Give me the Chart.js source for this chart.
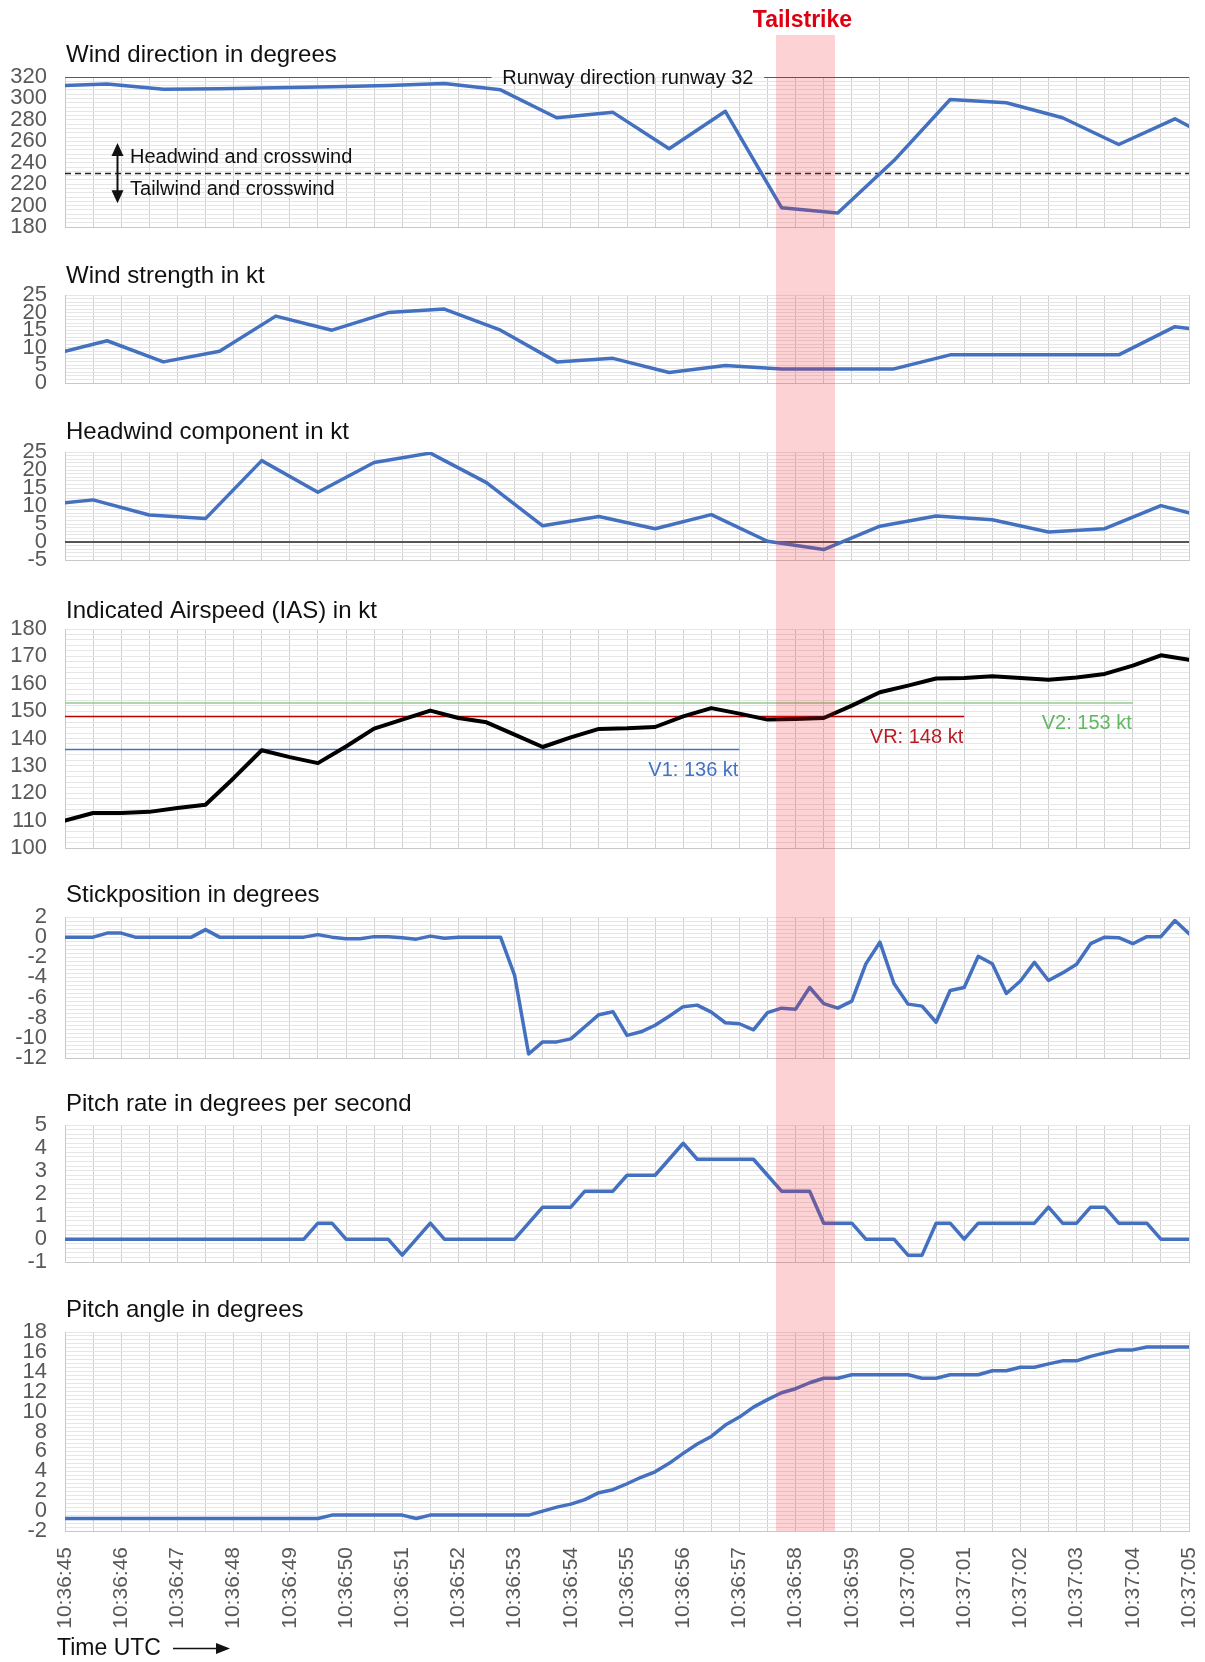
<!DOCTYPE html>
<html>
<head>
<meta charset="utf-8">
<title>Takeoff data</title>
<script src="https://cdn.jsdelivr.net/npm/chart.js@4.4.1/dist/chart.umd.min.js"></script>
<style>
  html, body { margin: 0; padding: 0; background: #fff; }
  #wrap { position: relative; width: 1205px; height: 1662px; overflow: hidden; background: #fff; }
  #wrap canvas { position: absolute; left: 0; }
  #tailBand { position: absolute; background: rgba(245, 30, 40, 0.2); pointer-events: none; z-index: 5; }
</style>
</head>
<body>
<div id="wrap"><div id="tailBand"></div></div>
<script>
// ---- time axis: seconds after 10:36:45 UTC ----
const timeLabels = ['10:36:45','10:36:46','10:36:47','10:36:48','10:36:49','10:36:50','10:36:51',
  '10:36:52','10:36:53','10:36:54','10:36:55','10:36:56','10:36:57','10:36:58','10:36:59',
  '10:37:00','10:37:01','10:37:02','10:37:03','10:37:04','10:37:05'];

// ---- wind (sampled once per second) ----
const windTimes = [0, 0.75, 1.75, 2.75, 3.75, 4.75, 5.75, 6.75, 7.75, 8.75, 9.75, 10.75,
  11.75, 12.75, 13.75, 14.75, 15.75, 16.75, 17.75, 18.75, 19.75, 20];
const windDirection = [312, 313.5, 308.5, 309, 310, 311, 312, 314, 308, 282, 287, 253,
  288, 198, 193, 242, 299, 296, 282, 257, 281, 274];
const windStrength = [9, 12, 6, 9, 19, 15, 20, 21, 15, 6, 7, 3,
  5, 4, 4, 4, 8, 8, 8, 8, 16, 15.5];

const headwindTimes = [0, 0.5, 1.5, 2.5, 3.5, 4.5, 5.5, 6.5, 7.5, 8.5, 9.5, 10.5,
  11.5, 12.5, 13.5, 14.5, 15.5, 16.5, 17.5, 18.5, 19.5, 20];
const headwindComponent = [10.9, 11.7, 7.5, 6.5, 22.6, 13.8, 22.1, 24.7, 16.5, 4.5, 7.1, 3.7,
  7.6, 0.2, -2.1, 4.4, 7.2, 6.2, 2.8, 3.7, 10.1, 8.1];

// ---- airspeed (two samples per second) ----
const iasTimes = [0, 0.5, 1, 1.5, 2, 2.5, 3, 3.5, 4, 4.5, 5, 5.5, 6, 6.5, 7, 7.5, 8, 8.5, 9, 9.5,
  10, 10.5, 11, 11.5, 12, 12.5, 13, 13.5, 14, 14.5, 15, 15.5, 16, 16.5, 17, 17.5, 18, 18.5, 19, 19.5, 20];
const indicatedAirspeed = [110, 112.8, 112.8, 113.2, 114.6, 115.8, 125.5, 135.7, 133.2, 131,
  137.1, 143.6, 146.9, 150.2, 147.5, 145.9, 141.4, 136.9, 140.4, 143.5,
  143.7, 144.2, 148.1, 151.1, 149.1, 146.9, 147.1, 147.5, 152, 156.9,
  159.3, 161.9, 162.1, 162.7, 162.1, 161.5, 162.3, 163.6, 166.6, 170.4, 168.8];

// takeoff speeds and the time where each reference line ends
const speedRefNames = ['V1', 'VR', 'V2'];
const speedRefValues = [136, 148, 153];
const speedRefEnds = [12, 16, 19];

// ---- flight controls / attitude (four samples per second) ----
const sampleTimes = [0, 0.25, 0.5, 0.75, 1, 1.25, 1.5, 1.75, 2, 2.25, 2.5, 2.75, 3, 3.25, 3.5, 3.75,
  4, 4.25, 4.5, 4.75, 5, 5.25, 5.5, 5.75, 6, 6.25, 6.5, 6.75, 7, 7.25, 7.5, 7.75,
  8, 8.25, 8.5, 8.75, 9, 9.25, 9.5, 9.75, 10, 10.25, 10.5, 10.75, 11, 11.25, 11.5, 11.75,
  12, 12.25, 12.5, 12.75, 13, 13.25, 13.5, 13.75, 14, 14.25, 14.5, 14.75, 15, 15.25, 15.5, 15.75,
  16, 16.25, 16.5, 16.75, 17, 17.25, 17.5, 17.75, 18, 18.25, 18.5, 18.75, 19, 19.25, 19.5, 19.75, 20];
const stickPosition = [
  0, 0, 0, 0.4, 0.4, 0, 0, 0,
  0, 0, 0.75, 0, 0, 0, 0, 0,
  0, 0, 0.25, 0, -0.15, -0.15, 0.05, 0.05,
  -0.05, -0.2, 0.1, -0.1, 0, 0, 0, 0,
  -3.8, -11.6, -10.4, -10.4, -10.1, -8.9, -7.7, -7.4,
  -9.75, -9.4, -8.75, -7.85, -6.9, -6.75, -7.45, -8.5,
  -8.6, -9.2, -7.5, -7.05, -7.15, -5.0, -6.6, -7.05,
  -6.35, -2.65, -0.5, -4.6, -6.65, -6.85, -8.45, -5.3,
  -5.0, -1.9, -2.65, -5.6, -4.35, -2.5, -4.3, -3.55,
  -2.7, -0.65, 0, -0.05, -0.65, 0.05, 0.05, 1.65,
  0.35];
const pitchRate = [
  0, 0, 0, 0, 0, 0, 0, 0,
  0, 0, 0, 0, 0, 0, 0, 0,
  0, 0, 0.7, 0.7, 0, 0, 0, 0,
  -0.7, 0, 0.7, 0, 0, 0, 0, 0,
  0, 0.7, 1.4, 1.4, 1.4, 2.1, 2.1, 2.1,
  2.8, 2.8, 2.8, 3.5, 4.2, 3.5, 3.5, 3.5,
  3.5, 3.5, 2.8, 2.1, 2.1, 2.1, 0.7, 0.7,
  0.7, 0, 0, 0, -0.7, -0.7, 0.7, 0.7,
  0, 0.7, 0.7, 0.7, 0.7, 0.7, 1.4, 0.7,
  0.7, 1.4, 1.4, 0.7, 0.7, 0.7, 0, 0,
  0];
const pitchAngle = [
  -0.75, -0.75, -0.75, -0.75, -0.75, -0.75, -0.75, -0.75,
  -0.75, -0.75, -0.75, -0.75, -0.75, -0.75, -0.75, -0.75,
  -0.75, -0.75, -0.75, -0.4, -0.4, -0.4, -0.4, -0.4,
  -0.4, -0.75, -0.4, -0.4, -0.4, -0.4, -0.4, -0.4,
  -0.4, -0.4, 0, 0.4, 0.7, 1.15, 1.85, 2.15,
  2.75, 3.4, 3.95, 4.8, 5.8, 6.75, 7.5, 8.65,
  9.45, 10.45, 11.2, 11.9, 12.3, 12.9, 13.35, 13.35,
  13.7, 13.7, 13.7, 13.7, 13.7, 13.35, 13.35, 13.7,
  13.7, 13.7, 14.1, 14.1, 14.45, 14.45, 14.8, 15.1,
  15.1, 15.55, 15.9, 16.2, 16.2, 16.5, 16.5, 16.5,
  16.5];

// ---- reference values ----
const runwayHeading = 320;          // runway 32
const crosswindBoundary = 230;      // 90 degrees off the runway heading
const runwayLabelGap = [7.59, 12.44];
const tailstrikeWindow = [12.65, 13.7];

// ---- styling ----
const FONT = "'Liberation Sans', Arial, Helvetica, sans-serif";
const BLUE = '#4470C0';
const TICK_COLOR = '#595959';
const GRID = '#d0d0d0';
const GRID_MINOR = '#e6e6e6';
const wrap = document.getElementById('wrap');

const panels = [
  { title: 'Wind direction in degrees', canvasTop: 0, plotTop: 77, plotBottom: 227, titleGap: 15, min: 180, max: 320, step: 20 },
  { title: 'Wind strength in kt', canvasTop: 250, plotTop: 295, plotBottom: 383, titleGap: 12, min: 0, max: 25, step: 5 },
  { title: 'Headwind component in kt', canvasTop: 405, plotTop: 452, plotBottom: 560, titleGap: 13, min: -5, max: 25, step: 5 },
  { title: 'Indicated Airspeed (IAS) in kt', canvasTop: 585, plotTop: 629, plotBottom: 848, titleGap: 11, min: 100, max: 180, step: 10 },
  { title: 'Stickposition in degrees', canvasTop: 872, plotTop: 917, plotBottom: 1058, titleGap: 15, min: -12, max: 2, step: 2 },
  { title: 'Pitch rate in degrees per second', canvasTop: 1080, plotTop: 1125, plotBottom: 1262, titleGap: 14, min: -1, max: 5, step: 1 },
  { title: 'Pitch angle in degrees', canvasTop: 1288, plotTop: 1332, plotBottom: 1531, titleGap: 15, min: -2, max: 18, step: 2, timeAxis: true }
];

function series(times, values, color, width) {
  return {
    data: times.map((t, i) => ({ x: t, y: values[i] })),
    borderColor: color, borderWidth: width, pointRadius: 0, tension: 0, fill: false,
    borderJoinStyle: 'round', borderCapStyle: 'round', xAxisID: 'x', yAxisID: 'y'
  };
}
function refLine(points, color, width, dash) {
  return {
    data: points, borderColor: color, borderWidth: width, borderDash: dash || [],
    pointRadius: 0, tension: 0, fill: false, spanGaps: false, xAxisID: 'x', yAxisID: 'y'
  };
}

function panelChart(p, datasets, drawExtras) {
  const canvas = document.createElement('canvas');
  const bottom = p.timeAxis ? 1662 : p.plotBottom + 15;
  const h = bottom - p.canvasTop;
  canvas.width = 1205; canvas.height = h;
  canvas.style.width = '1205px'; canvas.style.height = h + 'px';
  canvas.style.top = p.canvasTop + 'px';
  wrap.appendChild(canvas);
  const xAxisH = p.timeAxis ? 100 : 0;
  const padTop = p.plotTop - p.canvasTop;
  const padBottom = h - (p.plotBottom - p.canvasTop) - xAxisH;

  return new Chart(canvas, {
    type: 'line',
    data: { datasets },
    options: {
      responsive: false, maintainAspectRatio: false, animation: false, devicePixelRatio: 1,
      layout: { padding: { top: padTop, bottom: padBottom, left: 0, right: 16 } },
      plugins: { legend: { display: false }, tooltip: { enabled: false }, title: { display: false } },
      scales: {
        x: {
          type: 'linear', position: 'bottom', min: 0, max: 20,
          ticks: {
            display: !!p.timeAxis, stepSize: 0.5, autoSkip: false, maxTicksLimit: 1000,
            minRotation: 90, maxRotation: 90, padding: 16, color: TICK_COLOR,
            font: { family: FONT, size: 21 },
            callback: v => Number.isInteger(v) ? timeLabels[v] : ''
          },
          grid: { color: GRID, lineWidth: 1, drawTicks: false },
          border: { color: '#c8c8c8' },
          afterFit: s => { s.height = xAxisH; s.paddingLeft = 0; s.paddingRight = 0; }
        },
        y: {
          type: 'linear', position: 'left', min: p.min, max: p.max,
          ticks: {
            stepSize: p.step, autoSkip: false, maxTicksLimit: 1000, padding: 18,
            color: TICK_COLOR, font: { family: FONT, size: 22 }
          },
          grid: { color: GRID, lineWidth: 1, drawTicks: false },
          border: { color: '#c8c8c8' },
          afterFit: s => { s.width = 65; s.paddingTop = 0; s.paddingBottom = 0; }
        },
        yMinor: {
          type: 'linear', position: 'right', min: p.min, max: p.max, z: -1,
          ticks: { display: false, stepSize: p.step / 5, autoSkip: false, maxTicksLimit: 1000, padding: 0 },
          grid: { color: GRID_MINOR, lineWidth: 1, drawTicks: false },
          border: { display: false },
          afterFit: s => { s.width = 0; s.paddingTop = 0; s.paddingBottom = 0; }
        }
      }
    },
    plugins: [{
      id: 'panelDecor',
      afterDraw(chart) {
        const ctx = chart.ctx;
        ctx.save();
        ctx.font = `24px ${FONT}`;
        ctx.fillStyle = '#111';
        ctx.textAlign = 'left';
        ctx.textBaseline = 'alphabetic';
        ctx.fillText(p.title, chart.chartArea.left + 1, chart.chartArea.top - p.titleGap);
        ctx.restore();
        if (drawExtras) drawExtras(chart);
      }
    }]
  });
}

function arrowHead(ctx, x, tipY, dir) {
  // dir = -1 points up, +1 points down
  ctx.beginPath();
  ctx.moveTo(x, tipY);
  ctx.lineTo(x - 6, tipY - dir * 13);
  ctx.lineTo(x + 6, tipY - dir * 13);
  ctx.closePath();
  ctx.fill();
}

// 1: wind direction
const windDirChart = panelChart(panels[0], [
  series(windTimes, windDirection, BLUE, 3.5),
  refLine([{ x: 0, y: runwayHeading }, { x: runwayLabelGap[0], y: runwayHeading },
           { x: runwayLabelGap[0] + 0.01, y: null },
           { x: runwayLabelGap[1], y: runwayHeading }, { x: 20, y: runwayHeading }], '#5a5a5a', 2),
  refLine([{ x: 0, y: crosswindBoundary }, { x: 20, y: crosswindBoundary }], '#222', 1.5, [6, 4])
], chart => {
  const { ctx, scales: { x, y } } = chart;
  ctx.save();
  ctx.fillStyle = '#111';
  ctx.font = `20px ${FONT}`;
  ctx.textBaseline = 'middle';
  ctx.textAlign = 'left';
  ctx.fillText('Runway direction runway 32', x.getPixelForValue(runwayLabelGap[0] + 0.19), y.getPixelForValue(runwayHeading) + 1);
  ctx.fillText('Headwind and crosswind', x.getPixelForValue(1.157), y.getPixelForValue(245.3));
  ctx.fillText('Tailwind and crosswind', x.getPixelForValue(1.157), y.getPixelForValue(215.3));
  // double arrow across the crosswind boundary
  const ax = Math.round(x.getPixelForValue(0.93)) + 0.5;
  const top = y.getPixelForValue(258.4), bot = y.getPixelForValue(202.2);
  ctx.strokeStyle = '#111'; ctx.lineWidth = 2;
  ctx.beginPath(); ctx.moveTo(ax, top + 8); ctx.lineTo(ax, bot - 8); ctx.stroke();
  arrowHead(ctx, ax, top, -1);
  arrowHead(ctx, ax, bot, 1);
  // event label above the highlighted window
  const cx = (x.getPixelForValue(tailstrikeWindow[0]) + x.getPixelForValue(tailstrikeWindow[1])) / 2;
  ctx.fillStyle = '#dd0010';
  ctx.font = `bold 23px ${FONT}`;
  ctx.textAlign = 'center';
  ctx.textBaseline = 'alphabetic';
  ctx.fillText('Tailstrike', cx - 3, 27);
  ctx.restore();
});

// 2: wind strength
panelChart(panels[1], [series(windTimes, windStrength, BLUE, 3.5)]);

// 3: headwind component
panelChart(panels[2], [
  series(headwindTimes, headwindComponent, BLUE, 3.5),
  refLine([{ x: 0, y: 0 }, { x: 20, y: 0 }], '#555', 2)
]);

// 4: indicated airspeed with V1 / VR / V2
const refColors = ['#4472C4', '#C00000', '#8fcc8f'];
const refTextColors = ['#4472C4', '#B81D24', '#62B862'];
const refLabelValues = [128.3, 140.3, 145.4];
panelChart(panels[3], [
  series(iasTimes, indicatedAirspeed, '#000', 4),
  ...speedRefValues.map((v, i) => refLine([{ x: 0, y: v }, { x: speedRefEnds[i], y: v }], refColors[i], 1.5))
], chart => {
  const { ctx, scales: { x, y } } = chart;
  ctx.save();
  ctx.font = `20px ${FONT}`;
  ctx.textAlign = 'right';
  ctx.textBaseline = 'middle';
  speedRefValues.forEach((v, i) => {
    ctx.fillStyle = refTextColors[i];
    ctx.fillText(`${speedRefNames[i]}: ${v} kt`, x.getPixelForValue(speedRefEnds[i]) - 1, y.getPixelForValue(refLabelValues[i]));
  });
  ctx.restore();
});

// 5: stick position
panelChart(panels[4], [series(sampleTimes, stickPosition, BLUE, 3.5)]);

// 6: pitch rate
panelChart(panels[5], [series(sampleTimes, pitchRate, BLUE, 3.5)]);

// 7: pitch angle with the time axis
const pitchChart = panelChart(panels[6], [series(sampleTimes, pitchAngle, BLUE, 3.5)], chart => {
  const ctx = chart.ctx;
  const base = chart.height - 7;
  ctx.save();
  ctx.fillStyle = '#111';
  ctx.font = `23px ${FONT}`;
  ctx.textAlign = 'left';
  ctx.textBaseline = 'alphabetic';
  ctx.fillText('Time UTC', 57, base);
  const ay = base - 6.5;
  ctx.strokeStyle = '#111'; ctx.lineWidth = 1.5;
  ctx.beginPath(); ctx.moveTo(173, ay); ctx.lineTo(220, ay); ctx.stroke();
  ctx.beginPath(); ctx.moveTo(230, ay); ctx.lineTo(216, ay - 5.5); ctx.lineTo(216, ay + 5.5); ctx.closePath(); ctx.fill();
  ctx.restore();
});

// highlighted tailstrike window across all panels
const band = document.getElementById('tailBand');
const bx0 = windDirChart.scales.x.getPixelForValue(tailstrikeWindow[0]);
const bx1 = windDirChart.scales.x.getPixelForValue(tailstrikeWindow[1]);
const bandBottom = panels[6].canvasTop + pitchChart.chartArea.bottom;
band.style.left = bx0 + 'px';
band.style.width = (bx1 - bx0) + 'px';
band.style.top = '35px';
band.style.height = (bandBottom - 35) + 'px';
</script>
</body>
</html>
